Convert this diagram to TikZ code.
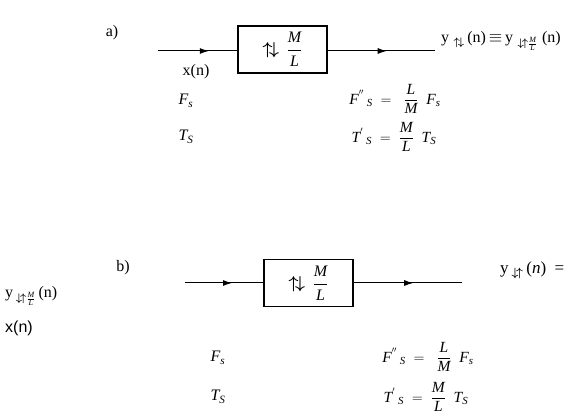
\documentclass[tikz,border=0pt]{standalone}
\usepackage{amsmath,amssymb}
\usepackage{fontspec}
\setmainfont{Liberation Serif}
\newfontfamily\sansx{Liberation Sans}
\usetikzlibrary{arrows.meta,decorations.markings}
\newcommand{\vi}[1]{\textit{#1}}
\newcommand{\updn}{\boldsymbol{\uparrow\!\downarrow}}
\newcommand{\dnup}{\boldsymbol{\downarrow\!\uparrow}}
\tikzset{
  blockbox/.style={draw,line width=1.3pt,minimum width=89pt,minimum height=47pt,inner sep=0pt},
  sigline/.style={line width=1pt,postaction={decorate},
    decoration={markings,mark=at position #1 with {\arrow{Latex[length=9pt,width=6pt]}}}},
  sigline/.default=0.6,
  lbl/.style={inner sep=0pt},
  eqn/.style={inner sep=0pt,font=\fontsize{15.5}{18}\selectfont}
}
\begin{document}
\begin{tikzpicture}[x=1pt,y=-1pt,font=\fontsize{16}{19}\selectfont]
\useasboundingbox (0,0) rectangle (571,419);
% ---------- a) ----------
\node[lbl] (la) at (112,33) {a)};
\node[blockbox] (boxa) at (282.5,49.5) {$\updn\,\dfrac{\vi{M}}{\vi{L}}$};
\coordinate (ina) at (158,51);
\coordinate (outa) at (435,51);
\draw[sigline=0.64] (ina) -- (ina -| boxa.west);
\draw[sigline=0.55] (outa -| boxa.east) -- (outa);
\node[lbl] (xa) at (196,72) {x(n)};
\node[lbl] (fa) at (186,101) {$\vi{F}_{\vi{s}}$};
\node[lbl] (ta) at (186,137) {$\vi{T}_{\vi{S}}$};
\node[eqn] (fpa) at (395,99) {$\vi{F}^{''}\,{}_{\vi{S}}\ =\ \ \dfrac{\vi{L}}{\vi{M}}\ \ \vi{F}_{\vi{s}}$};
\node[eqn] (tpa) at (394,137) {$\vi{T}^{'}\,{}_{\vi{S}}\ =\ \dfrac{\vi{M}}{\vi{L}}\ \ \vi{T}_{\vi{S}}$};
\node[lbl,anchor=base west] (ya) at (441,43) {y\;$_{\updn}$\,(n)$\,\equiv\,$y\;$_{\dnup\frac{\vi{M}}{\vi{L}}}$\;(n)};
% ---------- b) ----------
\node[lbl] (lb) at (123,268) {b)};
\node[blockbox] (boxb) at (308.5,283) {$\updn\,\dfrac{\vi{M}}{\vi{L}}$};
\coordinate (inb) at (185,283);
\coordinate (outb) at (462,283);
\draw[sigline=0.6] (inb) -- (inb -| boxb.west);
\draw[sigline=0.55] (outb -| boxb.east) -- (outb);
\node[lbl,anchor=base west] (yb) at (5,298) {y\,$_{\dnup\frac{\vi{M}}{\vi{L}}}$\,(n)};
\node[lbl,anchor=base west] (xb) at (5,333) {\sansx x(n)};
\node[lbl] (fb) at (218,358) {$\vi{F}_{\vi{s}}$};
\node[lbl] (tb) at (218,397) {$\vi{T}_{\vi{S}}$};
\node[eqn] (fpb) at (428,357) {$\vi{F}^{''}\,{}_{\vi{S}}\ =\ \ \dfrac{\vi{L}}{\vi{M}}\ \ \vi{F}_{\vi{s}}$};
\node[eqn] (tpb) at (426,397) {$\vi{T}^{'}\,{}_{\vi{S}}\ =\ \dfrac{\vi{M}}{\vi{L}}\ \ \vi{T}_{\vi{S}}$};
\node[lbl,anchor=base west,font=\fontsize{17}{20}\selectfont] (yob) at (500,274) {y\,$_{\dnup}$\,(\vi{n})\ \ =};
\end{tikzpicture}
\end{document}
